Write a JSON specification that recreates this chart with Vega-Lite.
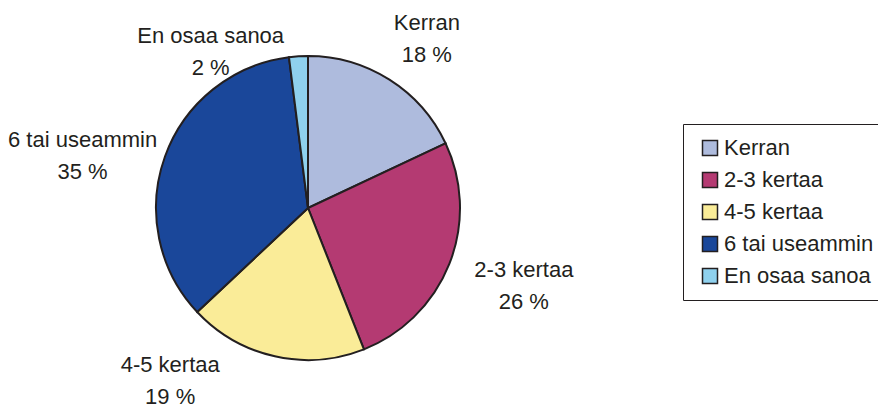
{
  "$schema": "https://vega.github.io/schema/vega-lite/v6.json",
  "width": 616,
  "height": 400,
  "autosize": {"type": "none"},
  "padding": {"left": 0, "top": 8, "right": 262, "bottom": 0},
  "background": "white",
  "config": {"view": {"stroke": null}, "font": "Liberation Sans"},
  "data": {"values": [
    {"cat": "Kerran", "pct": 18, "order": 1},
    {"cat": "2-3 kertaa", "pct": 26, "order": 2},
    {"cat": "4-5 kertaa", "pct": 19, "order": 3},
    {"cat": "6 tai useammin", "pct": 35, "order": 4},
    {"cat": "En osaa sanoa", "pct": 2, "order": 5}
  ]},
  "transform": [{"calculate": "datum.cat + '\\n' + datum.pct + ' %'", "as": "label"}],
  "encoding": {
    "theta": {"field": "pct", "type": "quantitative", "stack": true},
    "order": {"field": "order", "type": "quantitative"}
  },
  "layer": [
    {
      "mark": {"type": "arc", "outerRadius": 152, "stroke": "#231F20", "strokeWidth": 2},
      "encoding": {
        "color": {
          "field": "cat", "type": "nominal", "sort": null,
          "scale": {
            "domain": ["Kerran", "2-3 kertaa", "4-5 kertaa", "6 tai useammin", "En osaa sanoa"],
            "range": ["#AEBBDD", "#B43A72", "#FAEC98", "#1A479A", "#8FD1EE"]
          },
          "legend": {
            "title": null, "orient": "none", "legendX": 683, "legendY": 116,
            "strokeColor": "#231F20", "fillColor": "white", "padding": 13,
            "labelFontSize": 22, "labelColor": "#231F20", "labelFont": "Liberation Sans",
            "symbolType": "square", "symbolSize": 225, "symbolStrokeColor": "#231F20",
            "symbolStrokeWidth": 1.5, "symbolOpacity": 1, "rowPadding": 10, "labelOffset": 3,
            "symbolOffset": 3
          }
        }
      }
    },
    {
      "mark": {"type": "text", "radius": 205, "fontSize": 22, "lineBreak": "\n", "lineHeight": 32, "color": "#231F20", "dx": 9, "dy": -12},
      "encoding": {"text": {"condition": {"test": "datum.cat === 'Kerran'", "field": "label"}, "value": ""}}
    },
    {
      "mark": {"type": "text", "radius": 230, "fontSize": 22, "lineBreak": "\n", "lineHeight": 32, "color": "#231F20", "dx": 2, "dy": -23},
      "encoding": {"text": {"condition": {"test": "datum.cat === '2-3 kertaa'", "field": "label"}, "value": ""}}
    },
    {
      "mark": {"type": "text", "radius": 210, "fontSize": 22, "lineBreak": "\n", "lineHeight": 32, "color": "#231F20", "dx": -92, "dy": -48},
      "encoding": {"text": {"condition": {"test": "datum.cat === '4-5 kertaa'", "field": "label"}, "value": ""}}
    },
    {
      "mark": {"type": "text", "radius": 230, "fontSize": 22, "lineBreak": "\n", "lineHeight": 32, "color": "#231F20", "dx": -9, "dy": 10},
      "encoding": {"text": {"condition": {"test": "datum.cat === '6 tai useammin'", "field": "label"}, "value": ""}}
    },
    {
      "mark": {"type": "text", "radius": 180, "fontSize": 22, "lineBreak": "\n", "lineHeight": 32, "color": "#231F20", "dx": -86, "dy": 8},
      "encoding": {"text": {"condition": {"test": "datum.cat === 'En osaa sanoa'", "field": "label"}, "value": ""}}
    }
  ]
}
